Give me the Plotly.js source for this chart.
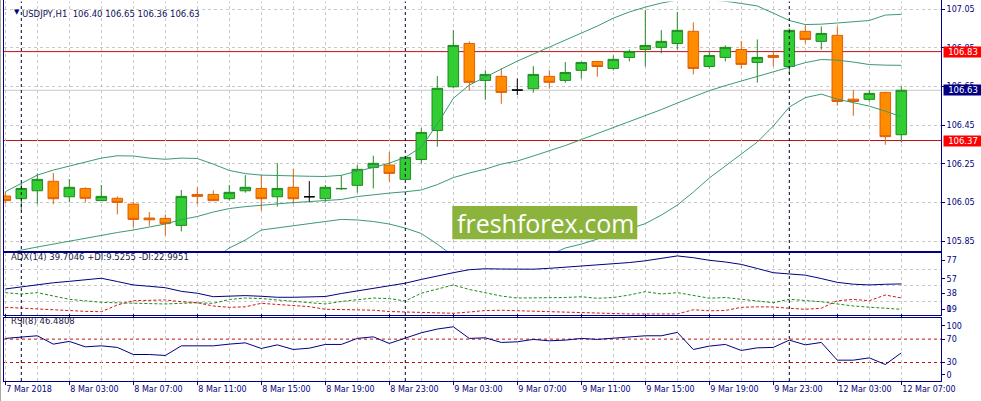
<!DOCTYPE html>
<html><head><meta charset="utf-8">
<script src="https://cdn.plot.ly/plotly-3.0.1.min.js"></script>
<style>html,body{margin:0;padding:0;background:#fff;overflow:hidden}#chart{width:981px;height:401px}</style>
</head><body><div id="chart"></div>
<script>
// ---------- DATA ----------
const open = [106.083,106.069,106.110,106.159,106.079,106.122,106.059,106.071,106.041,105.969,
105.967,105.931,106.091,106.091,106.069,106.110,106.122,106.079,106.128,106.079,
106.069,106.120,106.138,106.231,106.243,106.169,106.272,106.422,106.648,106.872,
106.681,106.702,106.631,106.638,106.702,106.681,106.733,106.779,106.743,106.800,
106.841,106.852,106.872,106.935,106.753,106.800,106.841,106.774,106.810,106.753,
106.935,106.883,106.914,106.584,106.583,106.619,106.40];
const high = [106.105,106.148,106.200,106.202,106.171,106.128,106.140,106.081,106.053,106.000,
105.988,106.114,106.128,106.112,106.140,106.191,106.191,106.253,106.222,106.160,
106.140,106.191,106.243,106.291,106.310,106.290,106.434,106.703,106.941,106.883,
106.734,106.743,106.691,106.755,106.734,106.776,106.778,106.782,106.810,106.841,
107.045,106.941,107.035,106.981,106.829,106.862,106.885,106.893,106.831,106.950,
106.966,106.960,106.960,106.631,106.631,106.622,106.65];
const low = [106.045,106.007,106.040,106.040,106.050,106.050,106.057,105.988,105.919,105.929,
105.879,105.900,106.040,106.057,106.060,106.100,106.007,106.028,106.041,106.050,
106.050,106.114,106.100,106.122,106.157,106.165,106.252,106.338,106.640,106.628,
106.581,106.560,106.605,106.617,106.638,106.669,106.690,106.700,106.733,106.779,
106.753,106.821,106.841,106.712,106.743,106.779,106.743,106.669,106.753,106.714,
106.872,106.841,106.550,106.498,106.572,106.348,106.36];
const close = [106.059,106.122,106.169,106.069,106.128,106.071,106.081,106.050,105.962,105.960,
105.940,106.081,106.081,106.059,106.102,106.128,106.069,106.122,106.069,106.079,
106.128,106.122,106.221,106.252,106.200,106.283,106.412,106.640,106.862,106.671,
106.712,106.619,106.631,106.712,106.671,106.722,106.774,106.753,106.790,106.831,
106.862,106.883,106.940,106.743,106.810,106.852,106.764,106.800,106.800,106.940,
106.893,106.924,106.572,106.572,106.614,106.390,106.63];
const bbUpper = [106.105,106.150,106.191,106.217,106.238,106.259,106.279,106.291,106.290,106.279,
106.273,106.279,106.277,106.248,106.215,106.199,106.191,106.189,106.186,106.185,
106.184,106.190,106.212,106.230,106.253,106.283,106.336,106.455,106.588,106.657,
106.698,106.740,106.781,106.817,106.853,106.890,106.926,106.962,107.003,107.035,
107.060,107.081,107.097,107.102,107.097,107.091,107.079,107.066,107.029,106.991,
106.970,106.972,106.978,106.983,106.991,107.019,107.023];
const bbMiddle = [105.783,105.803,105.819,105.834,105.850,105.865,105.881,105.894,105.907,105.922,
105.938,105.961,105.977,106.000,106.018,106.028,106.036,106.041,106.049,106.054,
106.059,106.065,106.080,106.090,106.098,106.105,106.114,106.142,106.178,106.202,
106.222,106.248,106.264,106.290,106.315,106.344,106.375,106.406,106.434,106.466,
106.497,106.530,106.564,106.597,106.628,106.654,106.678,106.703,106.729,106.753,
106.773,106.789,106.786,106.776,106.763,106.760,106.759];
const bbLower = [105.460,105.457,105.446,105.452,105.462,105.472,105.483,105.497,105.524,105.565,
105.603,105.643,105.677,105.752,105.814,105.855,105.907,105.917,105.928,105.938,
105.951,105.962,105.959,105.951,105.938,105.917,105.889,105.834,105.772,105.746,
105.746,105.757,105.746,105.762,105.778,105.814,105.834,105.860,105.886,105.912,
105.940,105.984,106.036,106.103,106.176,106.238,106.300,106.362,106.445,106.543,
106.592,106.610,106.584,106.564,106.548,106.522,106.493];
const adx = [33.7,36.4,39.3,41.1,42.8,44.7,46.5,42.6,38.5,36.9,
35.2,30.9,28.6,24.5,25.2,25.8,25.0,23.8,23.8,23.8,
24.7,28.3,31.3,34.5,37.3,40.6,45.1,49.4,53.1,56.7,
57.8,57.5,57.4,57.3,58.3,59.6,60.5,61.8,63.4,65.2,
67.3,70.2,73.1,71.0,67.9,65.9,63.0,58.1,53.1,51.6,
50.2,46.1,41.6,39.4,38.5,39.3,39.7];
const plusDI = [29.3,27.7,29.3,25.3,21.4,19.6,17.8,17.2,16.6,16.3,
15.8,16.6,17.3,16.6,21.2,22.9,22.3,20.6,19.1,17.8,
15.8,18.8,20.8,22.9,22.2,19.4,28.6,33.7,38.5,33.1,
29.5,25.3,22.9,23.2,22.7,23.5,24.4,22.6,23.5,26.5,
30.5,27.7,29.3,25.9,22.7,23.5,21.3,19.4,17.3,21.4,
19.7,18.5,15.8,13.4,12.0,10.7,9.5];
const minusDI = [11.8,10.7,9.5,8.4,7.4,7.0,6.6,14.6,19.7,20.2,
20.6,18.5,17.3,13.4,11.8,12.4,16.6,15.2,13.9,12.6,
9.5,9.2,8.9,8.4,6.8,6.2,5.4,5.0,4.7,6.2,
8.0,8.3,7.7,6.8,6.0,5.4,5.0,4.4,3.9,3.9,
3.9,3.9,3.9,8.9,7.7,8.0,11.8,12.4,12.2,10.7,
9.5,10.7,19.7,21.2,19.7,26.5,23.0];
const rsi = [71.2,72.9,75.7,61.4,66.1,56.8,58.5,55.8,43.7,43.7,
42.0,58.5,58.5,58.5,61.4,63.6,54.0,60.2,52.3,54.5,
60.9,60.9,71.2,73.9,62.6,71.2,80.8,87.2,91.1,71.2,
72.2,64.3,65.4,69.5,67.1,68.3,71.2,69.5,71.2,73.9,
75.7,75.7,81.5,52.3,58.0,60.9,50.6,55.1,55.8,68.3,
60.2,64.3,34.0,34.0,37.9,26.6,46.5];

const timeTickIdx = [0,4,8,12,16,20,24,28,32,36,40,44,48,52,56];
const timeTickText = ['7 Mar 2018','8 Mar 03:00','8 Mar 07:00','8 Mar 11:00','8 Mar 15:00','8 Mar 19:00','8 Mar 23:00',
  '9 Mar 03:00','9 Mar 07:00','9 Mar 11:00','9 Mar 15:00','9 Mar 19:00','9 Mar 23:00','12 Mar 03:00','12 Mar 07:00'];
const daySeparators = [1,25,49];
const priceTicks = [105.85,106.05,106.25,106.45,106.65,106.85,107.05];
const priceLevels = [106.83,106.37];
const bidPrice = 106.63;
const adxLevels = [77,57,38,19];
const adxLabelText = ['77','57','38','19','0'];
const rsiLevels = [70,30];
const rsiLabelText = ['100','70','30','0'];
const symbolTitle = 'USDJPY,H1\u00a0\u00a0106.40 106.65 106.36 106.63';
const adxTitle = 'ADX(14) 39.7046 +DI:9.5255 -DI:22.9951';
const rsiTitle = 'RSI(8) 46.4808';
const watermark = 'freshforex.com';

// ---------- LAYOUT GEOMETRY ----------
const W=981, H=401, PL=4, PR=40, PT=0, PB=20;
const PW=W-PL-PR, PH=H-PT-PB;
const fx = p => (p-PL)/PW;
const fy = p => (PH+PT-p)/PH;
const NAVY='#000080', GRID='#c8c8c8';
const FONT='DejaVu Sans';
const idx = open.map((_,i)=>i);
const xr0 = -(5.3-PL)/16, xr1 = xr0 + PW/16;

function subset(pred){
  const s={x:[],open:[],high:[],low:[],close:[]};
  idx.forEach(i=>{ if(pred(i)){ s.x.push(i); s.open.push(open[i]); s.high.push(high[i]); s.low.push(low[i]); s.close.push(close[i]); }});
  return s;
}
function candle(s, fill, line){
  return {type:'candlestick', x:s.x, open:s.open, high:s.high, low:s.low, close:s.close,
    xaxis:'x', yaxis:'y', whiskerwidth:0, hoverinfo:'skip', showlegend:false,
    increasing:{fillcolor:fill, line:{color:line, width:1}},
    decreasing:{fillcolor:fill, line:{color:line, width:1}}};
}
const bull = subset(i=>close[i]>open[i]);
const bear = subset(i=>close[i]<open[i]);
const doji = subset(i=>close[i]===open[i]);
const BB='#3a9a72';
function line(y, ax, color, dash, extra){
  return Object.assign({type:'scatter', mode:'lines', x:idx, y:y, xaxis:'x', yaxis:ax,
    line:{color:color, width:1, dash:dash||'solid'}, hoverinfo:'skip', showlegend:false}, extra||{});
}
const traces = [
  candle(bull,'#32cd32','#228b22'),
  candle(bear,'#ff8c00','#e0600a'),
  candle(doji,'#000000','#000000'),
  line(bbUpper,'y',BB), line(bbMiddle,'y',BB), line(bbLower,'y',BB),
  line(adx,'y2',NAVY), line(plusDI,'y2','#1a8a1a','3px,2px'), line(minusDI,'y2','#cc1a1a','3px,2px'),
  line(adx,'y4',NAVY,'solid',{opacity:0}),
  line(rsi,'y3',NAVY)
];

const shapes = [];
priceLevels.forEach(v=>shapes.push({type:'line', xref:'paper', x0:0, x1:1, yref:'y', y0:v, y1:v, line:{color:'#c01010', width:1}, layer:'below'}));
shapes.push({type:'line', xref:'paper', x0:0, x1:1, yref:'y', y0:bidPrice, y1:bidPrice, line:{color:'#c8c8c8', width:1}, layer:'below'});
rsiLevels.forEach(v=>shapes.push({type:'line', xref:'paper', x0:0, x1:1, yref:'y3', y0:v, y1:v, line:{color:'#c01010', width:1, dash:'3px,3px'}, layer:'below'}));
daySeparators.forEach(i=>shapes.push({type:'line', xref:'x', x0:i, x1:i, yref:'paper', y0:0, y1:1, line:{color:'#000033', width:1, dash:'3px,3px'}, layer:'above'}));
shapes.push({type:'rect', xref:'paper', yref:'paper', x0:fx(452.3), x1:fx(637.3), y0:fy(239.3), y1:fy(206), fillcolor:'#8cb43c', line:{width:0}, layer:'above'});
// no frame line along the very top of the window
shapes.push({type:'line', xref:'paper', yref:'paper', x0:fx(4.5), x1:fx(940.5), y0:fy(0.5), y1:fy(0.5), line:{color:'#ffffff', width:2}, layer:'above'});
// window edge on the far left
shapes.push({type:'line', xref:'paper', yref:'paper', x0:fx(0.5), x1:fx(0.5), y0:fy(401), y1:fy(0), line:{color:'#a8a8a8', width:1}, layer:'above'});

const annotations = [
  {xref:'paper', yref:'paper', x:fx(11.5), y:fy(5.5), text:'\u25BC', showarrow:false, font:{family:FONT, size:7, color:NAVY}},
  {xref:'paper', yref:'paper', x:fx(20), y:fy(6.5), xanchor:'left', text:symbolTitle, showarrow:false, font:{family:FONT, size:8.5, color:'#10105a'}},
  {xref:'paper', yref:'paper', x:fx(9), y:fy(263.5), xanchor:'left', text:adxTitle, showarrow:false, font:{family:FONT, size:8.5, color:'#1a1a40'}},
  {xref:'paper', yref:'paper', x:fx(8.5), y:fy(327.7), xanchor:'left', text:rsiTitle, showarrow:false, font:{family:FONT, size:8.5, color:'#1a1a40'}},
  {xref:'paper', yref:'paper', x:fx(545.5), y:fy(222.5), text:watermark, showarrow:false, font:{family:'Open Sans', size:25, color:'#ffffff'}}
];
function priceBox(v, bg){
  annotations.push({xref:'paper', yref:'y', x:1, y:v, xanchor:'left', xshift:1.5, text:v.toFixed(2), showarrow:false,
    bgcolor:bg, width:36, height:8, borderpad:1, align:'center', font:{family:FONT, size:8.5, color:'#ffffff'}});
}
priceLevels.forEach(v=>priceBox(v,'#ff0000'));
priceBox(bidPrice, NAVY);

const axLine = {showline:true, linecolor:NAVY, linewidth:1, mirror:true, zeroline:false};
const layout = {
  width:W, height:H, margin:{l:PL, r:PR, t:PT, b:PB, pad:0},
  paper_bgcolor:'#ffffff', plot_bgcolor:'#ffffff', showlegend:false, hovermode:false,
  font:{family:FONT, size:8, color:NAVY},
  boxgap:0.34, boxgroupgap:0,
  xaxis:{domain:[0,1], anchor:'y3', range:[xr0,xr1], rangeslider:{visible:false},
    tickmode:'array', tickvals:timeTickIdx, ticktext:timeTickText, ticklabelposition:'outside right',
    ticks:'outside', ticklen:3, tickcolor:NAVY, tickfont:{family:FONT, size:8, color:NAVY},
    showgrid:true, gridcolor:GRID, griddash:'3px,3px',
    minor:{tickmode:'array', tickvals:idx.filter(i=>i%4===2), showgrid:true, gridcolor:GRID, griddash:'3px,3px', ticks:''},
    showline:true, linecolor:NAVY, linewidth:1, mirror:'all', zeroline:false},
  yaxis:Object.assign({domain:[fy(250.7),1], anchor:'x', side:'right', range:[105.800,107.097],
    tickmode:'array', tickvals:priceTicks, ticktext:priceTicks.map(v=>v.toFixed(2)),
    ticks:'outside', ticklen:3, tickcolor:NAVY, tickfont:{family:FONT, size:8, color:NAVY},
    showgrid:true, gridcolor:GRID, griddash:'3px,3px'}, axLine),
  yaxis2:Object.assign({domain:[fy(315.3), fy(253)], anchor:'x', side:'right', range:[2.3,76.6],
    tickmode:'array', tickvals:adxLevels, showticklabels:false, ticks:'',
    showgrid:true, gridcolor:GRID, griddash:'3px,3px'}, axLine),
  yaxis4:{overlaying:'y2', anchor:'x', side:'right', range:[2.3,76.6], showgrid:false, zeroline:false,
    tickmode:'array', tickvals:[67.5,45.6,28.6,9.5,9.45], ticktext:adxLabelText, ticks:'outside', ticklen:3, tickcolor:NAVY,
    tickfont:{family:FONT, size:8, color:NAVY}},
  yaxis3:Object.assign({domain:[0, fy(317.7)], anchor:'x', side:'right', range:[-1.6,106.6],
    tickmode:'array', tickvals:[92.8,70,30,8.7], ticktext:rsiLabelText, ticks:'outside', ticklen:3, tickcolor:NAVY,
    tickfont:{family:FONT, size:8, color:NAVY}, showgrid:false}, axLine),
  shapes:shapes, annotations:annotations
};
Plotly.newPlot('chart', traces, layout, {staticPlot:true, displayModeBar:false});
</script>
</body></html>
